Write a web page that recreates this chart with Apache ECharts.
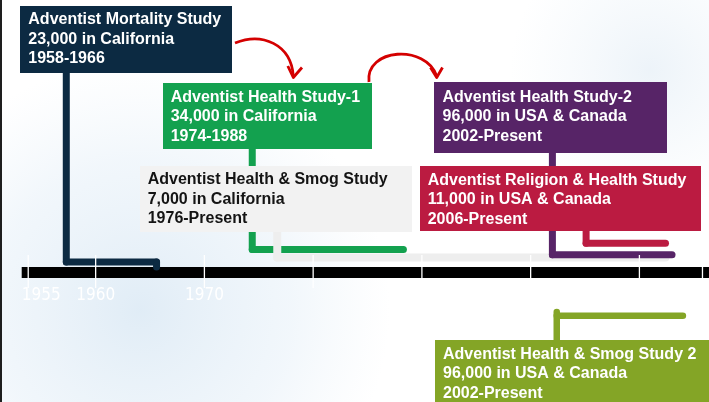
<!DOCTYPE html>
<html><head><meta charset="utf-8">
<script src="https://cdn.jsdelivr.net/npm/echarts@6/dist/echarts.min.js"></script>
<style>html,body{margin:0;padding:0;background:#fff}#c{width:709px;height:402px}</style>
</head><body><div id="c"></div>
<script>
// ---------- data ----------
const studyNames = ['Adventist Mortality Study', 'Adventist Health Study-1', 'Adventist Health & Smog Study',
  'Adventist Health Study-2', 'Adventist Religion & Health Study', 'Adventist Health & Smog Study 2'];
const participants = ['23,000', '34,000', '7,000', '96,000', '11,000', '96,000'];
const regions = ['California', 'California', 'California', 'USA & Canada', 'USA & Canada', 'USA & Canada'];
const periods = ['1958-1966', '1974-1988', '1976-Present', '2002-Present', '2006-Present', '2002-Present'];
const lineStartYears = [1957.3, 1974.4, 1976.7, 2002.0, 2005.1, 2002.4];
const lineEndYears = [1965.6, 1988.3, 2012.4, 2013.0, 2012.4, 2014.0];
const tickYears = [1953.8, 1960, 1970, 1980, 1990, 2000, 2010, 2015.8];
const labelYears = [1955, 1960, 1970];

// ---------- layout & style ----------
const AXIS_MIN = 1953.2, AXIS_MAX = 2016.4;
const colors = ['#0c2a42', '#13a14f', '#f2f2f2', '#572467', '#bb1b41', '#84a526'];
const lineColors = ['#0c2a42', '#13a14f', '#eeeeee', '#572467', '#bb1b41', '#84a526'];
const textColors = ['#fff', '#fff', '#141414', '#fff', '#fff', '#fff'];
const boxes = [
  { x: 20, y: 6, w: 212, h: 67, tx: 28.3, ty: 10.4 },
  { x: 163, y: 83, w: 209, h: 66, tx: 170.7, ty: 87.9 },
  { x: 140, y: 166, w: 272, h: 66, tx: 147.7, ty: 170.4 },
  { x: 434, y: 82, w: 233, h: 71, tx: 442.5, ty: 87.9 },
  { x: 420, y: 166, w: 281, h: 65, tx: 427.7, ty: 170.9 },
  { x: 435, y: 340, w: 280, h: 70, tx: 443, ty: 344.9 }
];
const links = [
  { top: 73, lane: 262, drop: 267, width: 7 },
  { top: 149, lane: 249.5, width: 7 },
  { top: 232, lane: 257.5, width: 8 },
  { top: 153, lane: 254.7, width: 7 },
  { top: 231, lane: 243.3, width: 7 },
  { top: 340, lane: 315.7, vEnd: 312, width: 6.5 }
];

const chart = echarts.init(document.getElementById('c'), null, { renderer: 'canvas' });

const graphics = [];
// background glow
graphics.push({
  type: 'circle', z: -10, silent: true,
  shape: { cx: 140, cy: 310, r: 250 },
  style: { fill: new echarts.graphic.RadialGradient(0.5, 0.5, 0.5, [
    { offset: 0, color: 'rgba(214,230,243,0.75)' }, { offset: 0.6, color: 'rgba(225,237,247,0.45)' }, { offset: 1, color: 'rgba(230,240,248,0)' }]) }
});
graphics.push({
  type: 'circle', z: -10, silent: true,
  shape: { cx: 650, cy: 70, r: 140 },
  style: { fill: new echarts.graphic.RadialGradient(0.5, 0.5, 0.5, [
    { offset: 0, color: 'rgba(222,234,244,0.55)' }, { offset: 1, color: 'rgba(230,240,248,0)' }]) }
});
// boxes with text
boxes.forEach((b, i) => {
  graphics.push({ type: 'rect', z: 10, shape: { x: b.x, y: b.y, width: b.w, height: b.h }, style: { fill: colors[i] } });
  graphics.push({
    type: 'text', z: 11, x: b.tx, y: b.ty,
    style: {
      text: studyNames[i] + '\n' + participants[i] + ' in ' + regions[i] + '\n' + periods[i],
      fill: textColors[i], font: 'bold 16px "Liberation Sans", Arial, sans-serif',
      lineHeight: 19.3, verticalAlign: 'top', align: 'left'
    }
  });
});
// red arrows
const red = '#d40000';
graphics.push({ type: 'bezierCurve', z: 12, shape: { x1: 235, y1: 43, cpx1: 262, cpy1: 32, cpx2: 291, cpy2: 44, x2: 293.3, y2: 76 }, style: { stroke: red, lineWidth: 2.8, fill: null } });
graphics.push({ type: 'polyline', z: 12, shape: { points: [[287.8, 66], [293.3, 77.5], [302, 67.5]] }, style: { stroke: red, lineWidth: 2.8, fill: null, lineJoin: 'round' } });
graphics.push({ type: 'bezierCurve', z: 12, shape: { x1: 369, y1: 82, cpx1: 365, cpy1: 48, cpx2: 426, cpy2: 44, x2: 436.7, y2: 76 }, style: { stroke: red, lineWidth: 2.8, fill: null } });
graphics.push({ type: 'polyline', z: 12, shape: { points: [[430.5, 67.5], [436.7, 77.5], [442.5, 67.5]] }, style: { stroke: red, lineWidth: 2.8, fill: null, lineJoin: 'round' } });
// left border
graphics.push({ type: 'rect', z: 20, shape: { x: 0, y: 0, width: 2, height: 402 }, style: { fill: '#1e1e1e' } });

const linkData = lineStartYears.map((s, i) => [s, lineEndYears[i], i]);
const tickData = tickYears.map(v => [v, 0]);

chart.setOption({
  animation: false,
  backgroundColor: '#ffffff',
  grid: { left: 21.7, right: 0, top: 0, bottom: 0 },
  xAxis: {
    type: 'value', min: AXIS_MIN, max: AXIS_MAX, position: 'bottom', offset: -129.5,
    axisLine: { show: true, onZero: false, lineStyle: { color: '#000', width: 11, cap: 'butt' } },
    axisTick: { show: false }, splitLine: { show: false },
    axisLabel: { customValues: labelYears, formatter: v => String(v), color: '#ffffff', fontSize: 17,
      fontFamily: '"Liberation Sans Narrow", "DejaVu Sans Condensed", sans-serif', margin: 15 }
  },
  yAxis: { type: 'value', min: 0, max: 402, inverse: true, show: false },
  graphic: { elements: graphics },
  series: [
    {
      type: 'custom', z: 3, silent: true, clip: false,
      encode: { x: [0, 1], y: 2 },
      data: linkData,
      renderItem: (params, api) => {
        const i = api.value(2);
        const L = links[i];
        const xs = api.coord([api.value(0), 0])[0];
        const xe = api.coord([api.value(1), 0])[0];
        const Y = v => api.coord([AXIS_MIN, v])[1];
        const st = { stroke: lineColors[i], lineWidth: L.width, lineCap: 'round', fill: null };
        const ch = [
          { type: 'line', shape: { x1: xs, y1: Y(L.top), x2: xs, y2: Y(L.vEnd !== undefined ? L.vEnd : L.lane) }, style: st },
          { type: 'line', shape: { x1: xs, y1: Y(L.lane), x2: xe, y2: Y(L.lane) }, style: st }
        ];
        if (L.drop !== undefined) ch.push({ type: 'line', shape: { x1: xe, y1: Y(L.lane), x2: xe, y2: Y(L.drop) }, style: st });
        return { type: 'group', children: ch };
      }
    },
    {
      type: 'custom', z: 4, silent: true, clip: false,
      encode: { x: 0, y: 1 },
      data: tickData,
      renderItem: (params, api) => {
        const x = api.coord([api.value(0), 0])[0];
        const y1 = api.coord([AXIS_MIN, 255])[1];
        const y2 = api.coord([AXIS_MIN, 288])[1];
        return { type: 'line', shape: { x1: x, y1: y1, x2: x, y2: y2 }, style: { stroke: '#ffffff', lineWidth: 1.3 } };
      }
    }
  ]
});
</script></body></html>
